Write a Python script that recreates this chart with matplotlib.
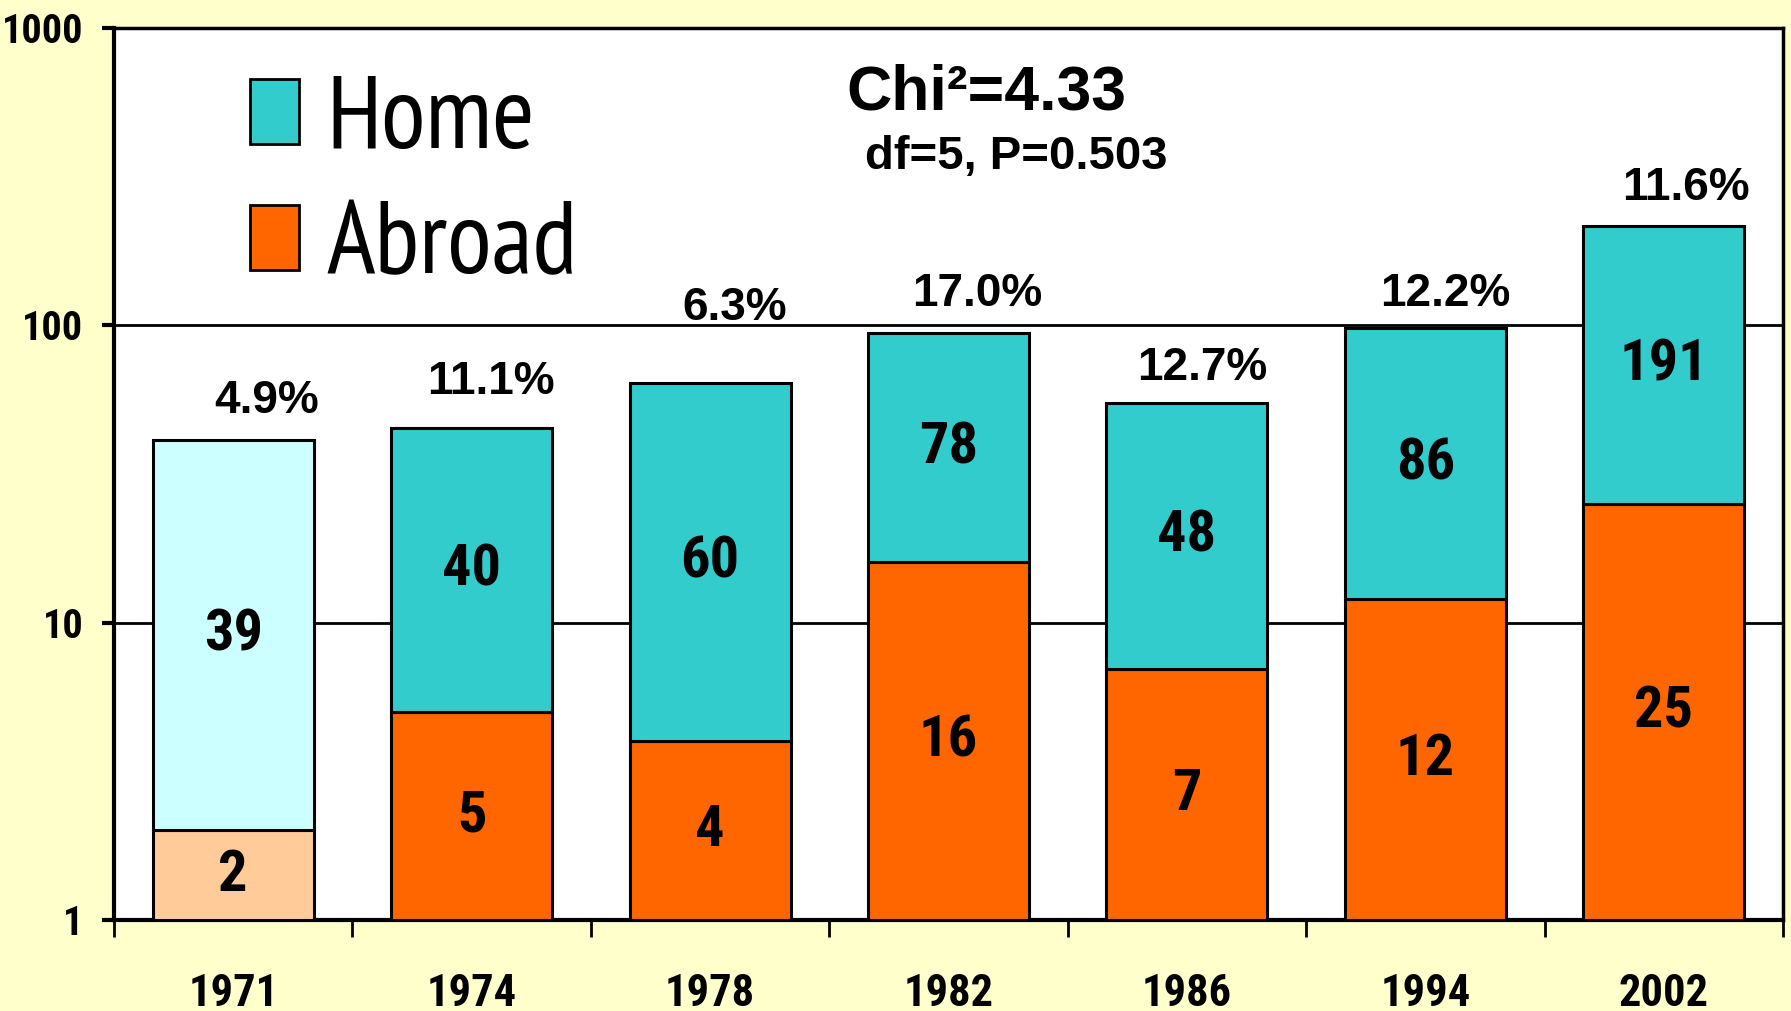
import numpy as np
import matplotlib
matplotlib.use("Agg")
import matplotlib.pyplot as plt
from matplotlib.patches import Patch

# dados do gráfico
years = ['1971', '1974', '1978', '1982', '1986', '1994', '2002']
abroad = [2, 5, 4, 16, 7, 12, 25]
home = [39, 40, 60, 78, 48, 86, 191]
pct_labels = ['4.9%', '11.1%', '6.3%', '17.0%', '12.7%', '12.2%', '11.6%']
y_ticks = [1, 10, 100, 1000]

BG = '#FFFFCC'
HOME_C = '#33CCCC'
ABROAD_C = '#FF6600'
HOME_LIGHT = '#CCFFFF'
ABROAD_LIGHT = '#FFCC99'

COND = ['Roboto Condensed', 'DejaVu Sans']
NARROW = ['PT Sans Narrow', 'Roboto Condensed', 'DejaVu Sans']
ARIAL = ['Liberation Sans', 'DejaVu Sans']

fig = plt.figure(figsize=(17.91, 10.11), dpi=100, facecolor=BG)
ax = fig.add_axes([114 / 1791, 91 / 1011, 1669 / 1791, 892 / 1011])
ax.set_facecolor('white')

x = np.arange(len(years))
totals = [a + h for a, h in zip(abroad, home)]
home_colors = [HOME_LIGHT] + [HOME_C] * (len(years) - 1)
abroad_colors = [ABROAD_LIGHT] + [ABROAD_C] * (len(years) - 1)

w = 0.675
ax.bar(x, np.array(abroad) - 1, bottom=1, width=w, color=abroad_colors,
       edgecolor='black', linewidth=2.2, zorder=3)
ax.bar(x, home, bottom=abroad, width=w, color=home_colors,
       edgecolor='black', linewidth=2.2, zorder=3)

ax.set_yscale('log')
ax.set_ylim(1, 1000)
ax.set_xlim(-0.5, len(years) - 0.5)

# linhas de grade
for v in [10, 100]:
    ax.axhline(v, color='black', linewidth=2, zorder=1)

# numeros dentro das barras (centro geometrico do segmento)
for i in range(len(years)):
    ax.text(x[i], np.sqrt(abroad[i]), str(abroad[i]), ha='center', va='center',
            family=COND, fontweight='bold', fontsize=42, zorder=4)
    ax.text(x[i], np.sqrt(abroad[i] * totals[i]), str(home[i]), ha='center',
            va='center', family=COND, fontweight='bold', fontsize=42, zorder=4)

# percentuais acima das barras (deslocamento em pixels)
dx = [33, 19, 25, 29, 15, 20, 22]
dy = [44, 51, 80, 44, 40, 39, 43]
for i in range(len(years)):
    ax.annotate(pct_labels[i], (x[i], totals[i]), xytext=(dx[i] * 0.72, dy[i] * 0.72),
                textcoords='offset points', ha='center', va='center_baseline',
                family=ARIAL, fontweight='bold', fontsize=33, zorder=4)

ax.text((986 - 114) / 1669, (920 - 93) / 892, 'Chi²=4.33', transform=ax.transAxes,
        ha='center', va='center', family=ARIAL, fontweight='bold', fontsize=45)
ax.text((1016 - 114) / 1669, (920 - 157) / 892, 'df=5, P=0.503', transform=ax.transAxes,
        ha='center', va='center', family=ARIAL, fontweight='bold', fontsize=34)

# eixos
ax.set_yticks(y_ticks)
ax.set_yticklabels([str(t) for t in y_ticks])
ax.yaxis.set_minor_locator(matplotlib.ticker.NullLocator())
ax.set_xticks(np.arange(-0.5, len(years), 1.0))
ax.set_xticklabels([])
ax.set_xticks(x, minor=True)
ax.set_xticklabels(years, minor=True)
ax.tick_params(axis='x', which='major', direction='out', length=12, width=2)
ax.tick_params(axis='x', which='minor', length=0, pad=38)
ax.tick_params(axis='y', direction='out', length=9, width=3, pad=13)
for lab in ax.get_xticklabels(minor=True):
    lab.set_family(COND)
    lab.set_fontweight('bold')
    lab.set_fontsize(32)
for lab in ax.get_yticklabels():
    lab.set_family(COND)
    lab.set_fontweight('bold')
    lab.set_fontsize(29)
for s in ['left', 'bottom']:
    ax.spines[s].set_linewidth(3)
for s in ['top', 'right']:
    ax.spines[s].set_linewidth(2.5)

handles = [Patch(facecolor=HOME_C, edgecolor='black', linewidth=2, label='Home'),
           Patch(facecolor=ABROAD_C, edgecolor='black', linewidth=2, label='Abroad')]
leg = ax.legend(handles=handles, loc='upper left',
                bbox_to_anchor=((250 - 114) / 1669, (920 - 76) / 892),
                frameon=False, prop={'family': NARROW, 'size': 74},
                handlelength=0.48, handleheight=0.6, handletextpad=0.26,
                labelspacing=0.32, borderaxespad=0, borderpad=0)

fig.savefig('out.png', dpi=100, facecolor=BG)
